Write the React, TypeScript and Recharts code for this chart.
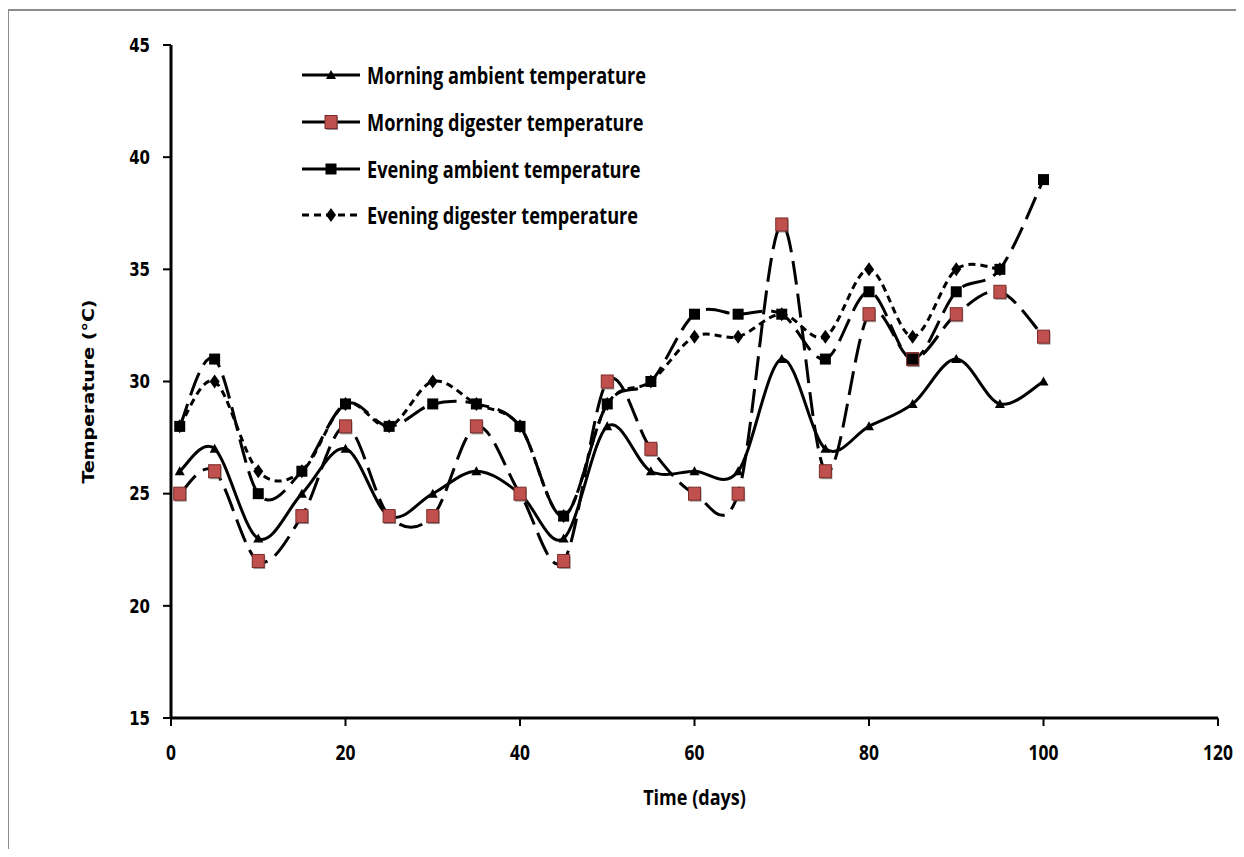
import React from 'react';
import { LineChart, Line, XAxis, YAxis, Legend } from 'recharts';

// sampling days
const days = [1, 5, 10, 15, 20, 25, 30, 35, 40, 45, 50, 55, 60, 65, 70, 75, 80, 85, 90, 95, 100];
const morningAmbient = [26, 27, 23, 25, 27, 24, 25, 26, 25, 23, 28, 26, 26, 26, 31, 27, 28, 29, 31, 29, 30];
const morningDigester = [25, 26, 22, 24, 28, 24, 24, 28, 25, 22, 30, 27, 25, 25, 37, 26, 33, 31, 33, 34, 32];
const eveningAmbient = [28, 31, 25, 26, 29, 28, 29, 29, 28, 24, 29, 30, 33, 33, 33, 31, 34, 31, 34, 35, 39];
const eveningDigester = [28, 30, 26, 26, 29, 28, 30, 29, 28, 24, 29, 30, 32, 32, 33, 32, 35, 32, 35, 35, null];

const xTicks = [0, 20, 40, 60, 80, 100, 120];
const yTicks = [15, 20, 25, 30, 35, 40, 45];

const legendItems = [
  { label: 'Morning ambient temperature', marker: 'triangle', dash: undefined },
  { label: 'Morning digester temperature', marker: 'redSquare', dash: undefined },
  { label: 'Evening ambient temperature', marker: 'square', dash: undefined },
  { label: 'Evening digester temperature', marker: 'diamond', dash: '7 5' },
];

const data = days.map((d, i) => ({
  day: d,
  ma: morningAmbient[i],
  md: morningDigester[i],
  ea: eveningAmbient[i],
  ed: eveningDigester[i],
}));

// calibri-ish look: open sans squeezed horizontally
const NARROW = '"Open Sans", "Noto Sans", sans-serif';
const SQUEEZE = 0.79;
const WIDE = '"DejaVu Sans", Verdana, sans-serif';

// excel-like smoothing (catmull-rom as cubic beziers)
const smoothCurve = (context: any) => {
  let pts: number[][] = [];
  return {
    areaStart() {},
    areaEnd() {},
    lineStart() {
      pts = [];
    },
    point(x: number, y: number) {
      pts.push([+x, +y]);
    },
    lineEnd() {
      const n = pts.length;
      if (!n) return;
      context.moveTo(pts[0][0], pts[0][1]);
      for (let i = 0; i < n - 1; i++) {
        const p0 = pts[Math.max(i - 1, 0)];
        const p1 = pts[i];
        const p2 = pts[i + 1];
        const p3 = pts[Math.min(i + 2, n - 1)];
        context.bezierCurveTo(
          p1[0] + (p2[0] - p0[0]) / 6,
          p1[1] + (p2[1] - p0[1]) / 6,
          p2[0] - (p3[0] - p1[0]) / 6,
          p2[1] - (p3[1] - p1[1]) / 6,
          p2[0],
          p2[1]
        );
      }
    },
  };
};

const Marker = ({ kind, cx, cy }: { kind: string; cx: number; cy: number }) => {
  if (kind === 'triangle') {
    return <polygon points={`${cx},${cy - 5} ${cx + 5},${cy + 4} ${cx - 5},${cy + 4}`} fill="#000" />;
  }
  if (kind === 'redSquare') {
    return (
      <g>
        <rect x={cx - 5} y={cy - 5} width={12} height={13} fill="#555" opacity={0.6} />
        <rect x={cx - 6} y={cy - 6.5} width={12} height={13} fill="#C0504D" stroke="#7a2b29" strokeWidth={1} />
      </g>
    );
  }
  if (kind === 'square') {
    return <rect x={cx - 5.5} y={cy - 5.5} width={11} height={11} fill="#000" />;
  }
  return <polygon points={`${cx},${cy - 7} ${cx + 5},${cy} ${cx},${cy + 7} ${cx - 5},${cy}`} fill="#000" />;
};

const dotOf = (kind: string) => (props: any) => {
  const { cx, cy, index, value } = props;
  if (value == null || cx == null || cy == null) return <g key={`${kind}-${index}`} />;
  return (
    <g key={`${kind}-${index}`}>
      <Marker kind={kind} cx={cx} cy={cy} />
    </g>
  );
};

const renderLegend = () => (
  <div style={{ fontFamily: NARROW, fontWeight: 700, fontSize: 23, color: '#000' }}>
    {legendItems.map((it) => (
      <div key={it.label} style={{ display: 'flex', alignItems: 'center', height: 46.7, whiteSpace: 'nowrap' }}>
        <svg width={60} height={20} style={{ display: 'block' }}>
          <line x1={0} y1={10} x2={58} y2={10} stroke="#000" strokeWidth={3} strokeDasharray={it.dash} />
          <Marker kind={it.marker} cx={29} cy={10} />
        </svg>
        <span
          style={{
            marginLeft: 5,
            display: 'inline-block',
            transform: `scaleX(${SQUEEZE})`,
            transformOrigin: 'left center',
          }}
        >
          {it.label}
        </span>
      </div>
    ))}
  </div>
);

const XTick = ({ x, y, payload }: any) => (
  <text
    transform={`translate(${x},${y}) scale(${SQUEEZE},1)`}
    textAnchor="middle"
    dy="0.71em"
    fontFamily={NARROW}
    fontWeight={700}
    fontSize={22}
    fill="#000"
  >
    {payload.value}
  </text>
);

const YTick = ({ x, y, payload }: any) => (
  <text
    transform={`translate(${x},${y}) scale(1,1.3)`}
    textAnchor="end"
    dominantBaseline="central"
    fontFamily={WIDE}
    fontWeight={700}
    fontSize={15}
    fill="#000"
  >
    {payload.value}
  </text>
);

const YLabel = ({ viewBox }: any) => {
  const cx = viewBox.x - 23;
  const cy = viewBox.y + viewBox.height / 2 + 10;
  return (
    <text
      transform={`translate(${cx},${cy}) rotate(-90)`}
      textAnchor="middle"
      dominantBaseline="central"
      fontFamily={WIDE}
      fontWeight={700}
      fontSize={16}
      fill="#000"
      textLength={184}
      lengthAdjust="spacingAndGlyphs"
    >
      Temperature (°C)
    </text>
  );
};

const XLabel = ({ viewBox }: any) => (
  <text
    transform={`translate(${viewBox.x + viewBox.width / 2},${viewBox.y + 87}) scale(0.82,1)`}
    textAnchor="middle"
    fontFamily={NARROW}
    fontWeight={700}
    fontSize={22}
    fill="#000"
  >
    Time (days)
  </text>
);

const App = () => {
  return (
    <div style={{ position: 'relative', width: 1236, height: 841 }}>
      <div
        style={{
          position: 'absolute',
          left: -1,
          top: 1,
          width: 1236,
          height: 840,
          boxSizing: 'border-box',
          borderTop: '2px solid #8c8c8c',
          borderLeft: '2px solid #8c8c8c',
        }}
      />
      <LineChart width={1236} height={841} data={data} margin={{ top: 37, right: 26, bottom: 51, left: 103 }}>
        <XAxis
          dataKey="day"
          type="number"
          domain={[0, 120]}
          ticks={xTicks}
          height={80}
          axisLine={{ stroke: '#000', strokeWidth: 3 }}
          tickLine={{ stroke: '#000', strokeWidth: 2 }}
          tickSize={8}
          tickMargin={18}
          tick={<XTick />}
          label={<XLabel />}
        />
        <YAxis
          type="number"
          domain={[15, 45]}
          ticks={yTicks}
          width={60}
          axisLine={{ stroke: '#000', strokeWidth: 3 }}
          tickLine={{ stroke: '#000', strokeWidth: 2 }}
          tickSize={8}
          tickMargin={13}
          tick={<YTick />}
          label={<YLabel />}
        />
        <Legend
          layout="vertical"
          align="center"
          verticalAlign="middle"
          content={renderLegend}
          wrapperStyle={{ left: 294, top: 44, width: 420 }}
        />
        <Line
          dataKey="ma"
          name="Morning ambient temperature"
          type={smoothCurve as any}
          stroke="#000"
          strokeWidth={3}
          dot={dotOf('triangle')}
          activeDot={false}
          isAnimationActive={false}
        />
        <Line
          dataKey="md"
          name="Morning digester temperature"
          type={smoothCurve as any}
          stroke="#000"
          strokeWidth={3}
          strokeDasharray="24 9"
          dot={dotOf('redSquare')}
          activeDot={false}
          isAnimationActive={false}
        />
        <Line
          dataKey="ea"
          name="Evening ambient temperature"
          type={smoothCurve as any}
          stroke="#000"
          strokeWidth={3}
          strokeDasharray="24 9"
          dot={dotOf('square')}
          activeDot={false}
          isAnimationActive={false}
        />
        <Line
          dataKey="ed"
          name="Evening digester temperature"
          type={smoothCurve as any}
          stroke="#000"
          strokeWidth={3}
          strokeDasharray="7 5"
          dot={dotOf('diamond')}
          activeDot={false}
          isAnimationActive={false}
        />
      </LineChart>
    </div>
  );
};

export default App;
